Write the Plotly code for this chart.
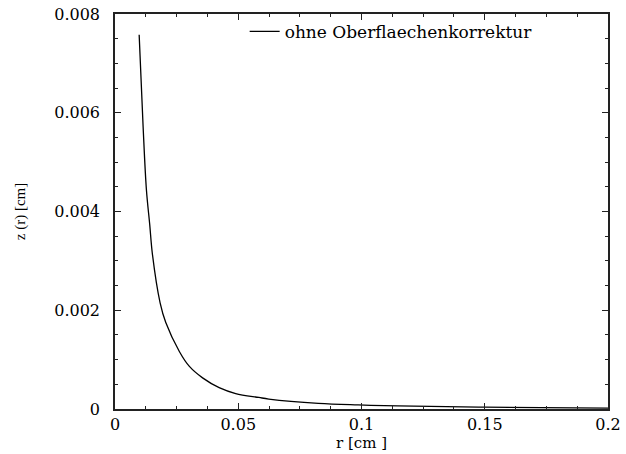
import plotly.graph_objects as go

# values
r_cm = [0.0098, 0.0114, 0.01276, 0.01408, 0.01517, 0.0183, 0.0206,
        0.02616, 0.03018, 0.03553, 0.04225, 0.04897, 0.05835, 0.0624, 0.0825, 0.0986,
        0.1147, 0.150, 0.200]
z_cm = [0.00758, 0.00572, 0.00443, 0.00374, 0.00314, 0.00215, 0.00175,
        0.00116, 0.000862, 0.00063, 0.000432, 0.000313, 0.000234, 0.000202, 0.000115, 0.000083,
        0.000063, 0.000036, 0.000018]
series_name = "ohne Oberflaechenkorrektur"
x_ticks = [0, 0.05, 0.1, 0.15, 0.2]
x_labels = ["0", "0.05", "0.1", "0.15", "0.2"]
y_ticks = [0, 0.002, 0.004, 0.006, 0.008]
y_labels = ["0", "0.002", "0.004", "0.006", "0.008"]

FONT = "DejaVu Serif"

fig = go.Figure()
fig.add_trace(go.Scatter(
    x=r_cm, y=z_cm, mode="lines", name=series_name,
    line=dict(color="black", width=1.3, shape="spline", smoothing=1.0),
))

axis_common = dict(
    showgrid=False, zeroline=False, showline=True, linecolor="#222", linewidth=1.5,
    mirror="allticks", ticks="inside", ticklen=6, tickcolor="#222", tickwidth=1.3,
    tickfont=dict(family=FONT, size=16, color="black"),
    ticklabeloverflow="allow",
)

fig.update_layout(
    width=626, height=454,
    margin=dict(l=115, r=14, t=5, b=45),
    paper_bgcolor="white", plot_bgcolor="white",
    font=dict(family=FONT, color="black"),
    showlegend=True,
    legend=dict(x=0.263, y=0.955, xanchor="left", yanchor="middle",
                bgcolor="rgba(0,0,0,0)", font=dict(family=FONT, size=17)),
    xaxis=dict(range=[0, 0.2], tickvals=x_ticks, ticktext=x_labels,
               minor=dict(ticks="inside", ticklen=3, dtick=0.0125, tickcolor="#222"),
               title=dict(text="r [cm ]", font=dict(family=FONT, size=15), standoff=0),
               **axis_common),
    yaxis=dict(range=[0, 0.008], tickvals=y_ticks, ticktext=y_labels,
               minor=dict(ticks="inside", ticklen=3, dtick=0.0005, tickcolor="#222"),
               ticklabelstandoff=10,
               title=dict(text="z (r) [cm]", font=dict(family="Liberation Serif", size=15), standoff=25),
               **axis_common),
)

fig.write_html("out.html")
